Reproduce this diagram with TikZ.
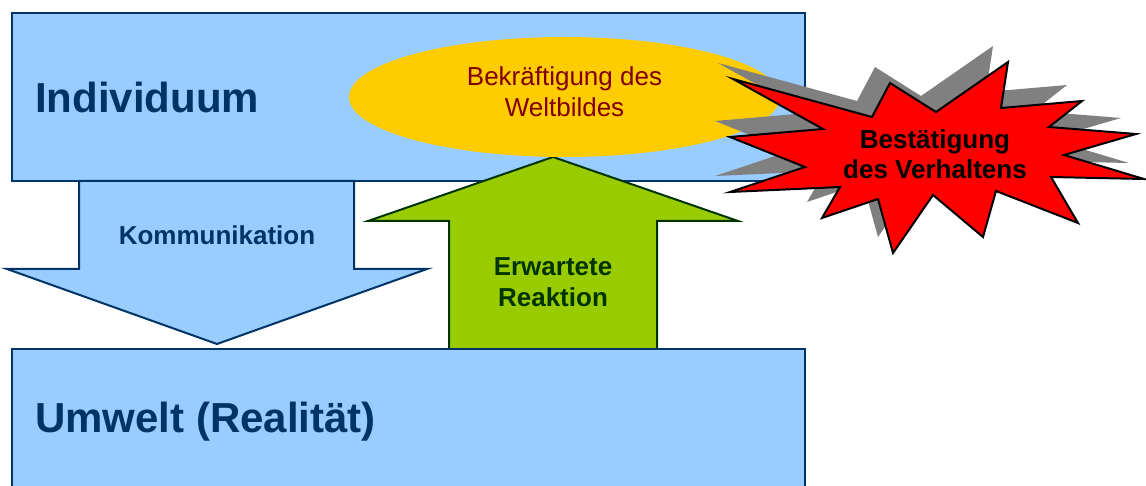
\documentclass[tikz,border=0pt]{standalone}
\usepackage{fontspec}
\setmainfont{Liberation Sans}
\definecolor{boxblue}{HTML}{99CCFF}
\definecolor{navy}{HTML}{003366}
\definecolor{leaf}{HTML}{99CC00}
\definecolor{darkgreen}{HTML}{003300}
\definecolor{gold}{HTML}{FFCC00}
\definecolor{maroon}{HTML}{800000}
\definecolor{shadowgray}{HTML}{808080}
\tikzset{
  bluebox/.style={fill=boxblue, draw=navy, line width=2pt, line join=miter},
  greenarrow/.style={fill=leaf, draw=darkgreen, line width=2pt, line join=miter},
  burst/.style={fill=red, draw=black, line width=2pt, line join=miter},
  burstshadow/.style={fill=shadowgray},
  bigtext/.style={font=\fontsize{42}{50}\selectfont\bfseries, text=navy, inner sep=0pt},
  smalltext/.style={font=\fontsize{26}{30.5}\selectfont\bfseries, align=center, inner sep=0pt},
}
\begin{document}
\begin{tikzpicture}[x=1pt, y=-1pt]
\useasboundingbox (0,0) rectangle (1146,486);
% top box
\draw[bluebox] (12,13) rectangle (805,181);
% down arrow
\draw[bluebox] (79,181) -- (354,181) -- (354,269) -- (427,269) -- (217,344) -- (7,269) -- (79,269) -- cycle;
% green arrow
\draw[greenarrow] (449,349) -- (449,221) -- (368,221) -- (553,157) -- (738,221) -- (657,221) -- (657,349) -- cycle;
% bottom box
\draw[bluebox] (12,349) rectangle (805,500);
% ellipse
\fill[gold] (564.5,97) ellipse [x radius=215.5, y radius=60];
\node[font=\fontsize{26}{31}\selectfont, text=maroon, align=center, inner sep=0pt] (welt) at (564.5,92) {Bekräftigung des\\Weltbildes};
% starburst shadow
\begin{scope}[shift={(-15,-16)}]
\fill[burstshadow] (733,79) -- (872,117) -- (890,83) -- (936,112) -- (1008,62) -- (1001,108) -- (1082,101) -- (1049,127) -- (1136,134) -- (1064,155) -- (1144,179) -- (1051,177) -- (1078,223) -- (996,191) -- (983,237) -- (933,195) -- (893,253) -- (878,199) -- (822,218) -- (840,187) -- (730,192) -- (805,167) -- (730,137) -- (823,129) -- cycle;
\end{scope}
\draw[burst] (733,79) -- (872,117) -- (890,83) -- (936,112) -- (1008,62) -- (1001,108) -- (1082,101) -- (1049,127) -- (1136,134) -- (1064,155) -- (1144,179) -- (1051,177) -- (1078,223) -- (996,191) -- (983,237) -- (933,195) -- (893,253) -- (878,199) -- (822,218) -- (840,187) -- (730,192) -- (805,167) -- (730,137) -- (823,129) -- cycle;
% texts
\node[bigtext, anchor=base west] (indiv) at (35,113) {Individuum};
\node[bigtext, anchor=base west] (umwelt) at (35,432) {Umwelt (Realität)};
\node[smalltext, text=navy] (komm) at (217,235) {Kommunikation};
\node[smalltext, text=darkgreen] (reakt) at (553,282) {Erwartete\\Reaktion};
\node[smalltext, text=black] (best) at (935,154) {Bestätigung\\des Verhaltens};
\end{tikzpicture}
\end{document}
